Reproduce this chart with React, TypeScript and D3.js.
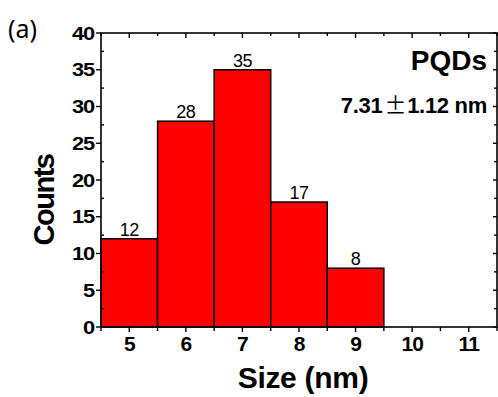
import React from "react";
import * as d3 from "d3";

const sizes = [5, 6, 7, 8, 9, 10, 11];
const counts = [12, 28, 35, 17, 8, 0, 0];
const yTicks = [0, 5, 10, 15, 20, 25, 30, 35, 40];
const xTickLabels = ["5", "6", "7", "8", "9", "10", "11"];

export default function App() {
  const W = 498, H = 397;
  const left = 101, right = 497, top = 33, bottom = 327;
  const x = d3.scaleLinear().domain([4.5, 11.5]).range([left, right]);
  const y = d3.scaleLinear().domain([0, 40]).range([bottom, top]);
  const halfTicks = d3.range(4.5, 11.51, 0.5);
  const minorY = d3.range(2.5, 40, 5);
  const font = "'Liberation Sans', Arial, sans-serif";

  return (
    <svg width={W} height={H} style={{ position: "absolute", left: 0, top: 0 }}>
      <rect width={W} height={H} fill="white" />
      {sizes.map((s, i) =>
        counts[i] > 0 ? (
          <g key={s}>
            <rect
              x={x(s - 0.5)}
              y={y(counts[i])}
              width={x(s + 0.5) - x(s - 0.5)}
              height={y(0) - y(counts[i])}
              fill="#ff0000"
              stroke="#000"
              strokeWidth={1.5}
            />
            <text
              x={x(s)}
              y={y(counts[i]) - 3}
              textAnchor="middle"
              fontFamily={font}
              fontSize={18}
              letterSpacing={-0.5}
              fill="#000"
            >
              {counts[i]}
            </text>
          </g>
        ) : null
      )}
      <rect x={left} y={top} width={right - left} height={bottom - top} fill="none" stroke="#000" strokeWidth={1.6} />
      {halfTicks.map((t) => {
        const major = Math.abs(t - Math.round(t)) < 0.01;
        return (
          <g key={t}>
            <line x1={x(t)} x2={x(t)} y1={bottom} y2={bottom + (major ? 5 : 4)} stroke="#000" strokeWidth={1.4} />
            <line x1={x(t)} x2={x(t)} y1={top} y2={top + (major ? 5 : 3)} stroke="#000" strokeWidth={1.4} />
          </g>
        );
      })}
      {xTickLabels.map((l, i) => (
        <text
          key={l}
          x={x(sizes[i])}
          y={351}
          textAnchor="middle"
          fontFamily={font}
          fontWeight="bold"
          fontSize={21}
          letterSpacing={-1}
          fill="#000"
        >
          {l}
        </text>
      ))}
      {yTicks.map((t) => (
        <g key={t}>
          <line x1={left - 5} x2={left} y1={y(t)} y2={y(t)} stroke="#000" strokeWidth={1.4} />
          <line x1={right} x2={right - 4} y1={y(t)} y2={y(t)} stroke="#000" strokeWidth={1.4} />
          <text
            transform={`translate(${left - 7}, ${y(t) + 6.5}) scale(1.15, 1)`}
            textAnchor="end"
            fontFamily={font}
            fontWeight="bold"
            fontSize={19}
            letterSpacing={-1}
            fill="#000"
          >
            {t}
          </text>
        </g>
      ))}
      {minorY.map((t) => (
        <g key={t}>
          <line x1={left} x2={left + 3} y1={y(t)} y2={y(t)} stroke="#000" strokeWidth={1.4} />
          <line x1={right} x2={right - 3} y1={y(t)} y2={y(t)} stroke="#000" strokeWidth={1.4} />
        </g>
      ))}
      <text
        x={303}
        y={388}
        textAnchor="middle"
        fontFamily={font}
        fontWeight="bold"
        fontSize={30}
        letterSpacing={-0.3}
        fill="#000"
      >
        Size (nm)
      </text>
      <text
        transform={`translate(54, 200) rotate(-90)`}
        textAnchor="middle"
        fontFamily={font}
        fontWeight="bold"
        fontSize={29}
        letterSpacing={-1.5}
        fill="#000"
      >
        Counts
      </text>
      <text x={8} y={38} fontFamily="'Noto Sans', 'Open Sans', sans-serif" fontSize={25} fill="#000">
        (a)
      </text>
      <text x={487} y={70} textAnchor="end" fontFamily={font} fontWeight="bold" fontSize={28} letterSpacing={0} fill="#000">
        PQDs
      </text>
      <text x={487} y={113} textAnchor="end" fontFamily={font} fontWeight="bold" fontSize={22} letterSpacing={-0.3} fill="#000">
        7.31<tspan fontWeight="normal" fontFamily="'Noto Sans CJK SC', sans-serif" dx={2}>±</tspan><tspan dx={1}>1.12 nm</tspan>
      </text>
    </svg>
  );
}
